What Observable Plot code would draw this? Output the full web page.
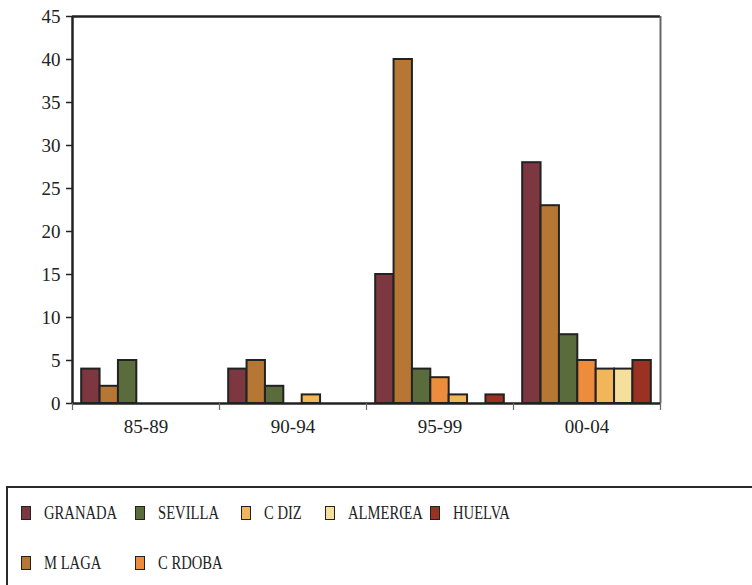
<!DOCTYPE html>
<html>
<head>
<meta charset="utf-8">
<script src="https://cdn.jsdelivr.net/npm/d3@7"></script>
<script src="https://cdn.jsdelivr.net/npm/@observablehq/plot@0.6"></script>
<style>
  body { margin: 0; background: #fff; width: 752px; height: 585px; overflow: hidden; position: relative;
         font-family: "Liberation Serif", "Times New Roman", serif; color: #222; }
  #chart { position: absolute; left: 0; top: 0; }
  #legend { position: absolute; left: 6px; top: 486px; width: 780px; height: 130px;
            border: 2px solid #2a2a2a; box-sizing: border-box; }
  .item { position: absolute; display: flex; align-items: center; height: 20px; }
  .sw { width: 8px; height: 12px; border: 1.5px solid #222; flex: none; }
  .lab { font-size: 19px; transform: scaleX(0.77); transform-origin: left center;
         margin-left: 13px; white-space: nowrap; color: #222; }
</style>
</head>
<body>
<div id="chart"></div>
<div id="legend"></div>
<script>
// ---- data ----
const periods = ["85-89", "90-94", "95-99", "00-04"];
const regions = ["GRANADA", "M LAGA", "SEVILLA", "C RDOBA", "C DIZ", "ALMERŒA", "HUELVA"];
const granada = [4, 4, 15, 28];
const malaga  = [2, 5, 40, 23];
const sevilla = [5, 2, 4, 8];
const cordoba = [0, 0, 3, 5];
const cadiz   = [0, 1, 1, 4];
const almeria = [0, 0, 0, 4];
const huelva  = [0, 0, 1, 5];
const yTicks = [0, 5, 10, 15, 20, 25, 30, 35, 40, 45];
const colors = ["#7D3740", "#B57733", "#5A6B3C", "#EE8C3E", "#F2B65A", "#F5DF9C", "#9B3123"];

const series = [granada, malaga, sevilla, cordoba, cadiz, almeria, huelva];
const slots = regions.length + 1; // half-slot padding each side
const table = [];
periods.forEach((p, i) => {
  regions.forEach((r, k) => {
    table.push({
      period: p, region: r, value: series[k][i],
      x1: i + (k + 0.5) / slots, x2: i + (k + 1.5) / slots
    });
  });
});

const chart = Plot.plot({
  width: 752,
  height: 450,
  marginLeft: 72,
  marginRight: 92,
  marginTop: 16,
  marginBottom: 47,
  style: { fontFamily: "'Liberation Serif', 'Times New Roman', serif", fontSize: "19px", color: "#222", background: "#fff" },
  x: { domain: [0, periods.length], axis: null },
  y: { domain: [0, 45], axis: null },
  color: { domain: regions, range: colors },
  marks: [
    Plot.rect(table, { x1: "x1", x2: "x2", y1: 0, y2: "value", fill: "region", stroke: "#222", strokeWidth: 2 }),
    Plot.ruleY([45], { stroke: "#222", strokeWidth: 2.5 }),
    Plot.ruleX([periods.length], { stroke: "#666", strokeWidth: 2 }),
    Plot.ruleY([0], { stroke: "#222", strokeWidth: 2.5 }),
    Plot.ruleX([0], { stroke: "#222", strokeWidth: 2.5 }),
    Plot.axisY({ ticks: yTicks, label: null, tickSize: 6, tickPadding: 6, stroke: "#222", strokeWidth: 1.5, fill: "#222", fontSize: 19 }),
    Plot.axisX({ ticks: d3.range(periods.length + 1), label: null, tickSize: 7, tickFormat: () => "", stroke: "#666", strokeWidth: 1.2 }),
    Plot.axisX({ ticks: periods.map((_, i) => i + 0.5), label: null, tickFormat: d => periods[Math.floor(d)], tickSize: 0, tickPadding: 16, fill: "#222", fontSize: 19 })
  ]
});
document.getElementById("chart").appendChild(chart);

// ---- legend ----
const legendCol = [0, 0, 1, 1, 2, 3, 4];
const legendRow = [0, 1, 0, 1, 0, 0, 0];
const colLefts = [13, 127, 233, 317, 422];
const rowTops = [15, 65];
const legend = document.getElementById("legend");
regions.forEach((r, k) => {
  const it = document.createElement("div");
  it.className = "item";
  it.style.left = colLefts[legendCol[k]] + "px";
  it.style.top = rowTops[legendRow[k]] + "px";
  const sw = document.createElement("div");
  sw.className = "sw";
  sw.style.background = colors[k];
  const lab = document.createElement("span");
  lab.className = "lab";
  lab.textContent = r;
  it.appendChild(sw);
  it.appendChild(lab);
  legend.appendChild(it);
});
</script>
</body>
</html>
